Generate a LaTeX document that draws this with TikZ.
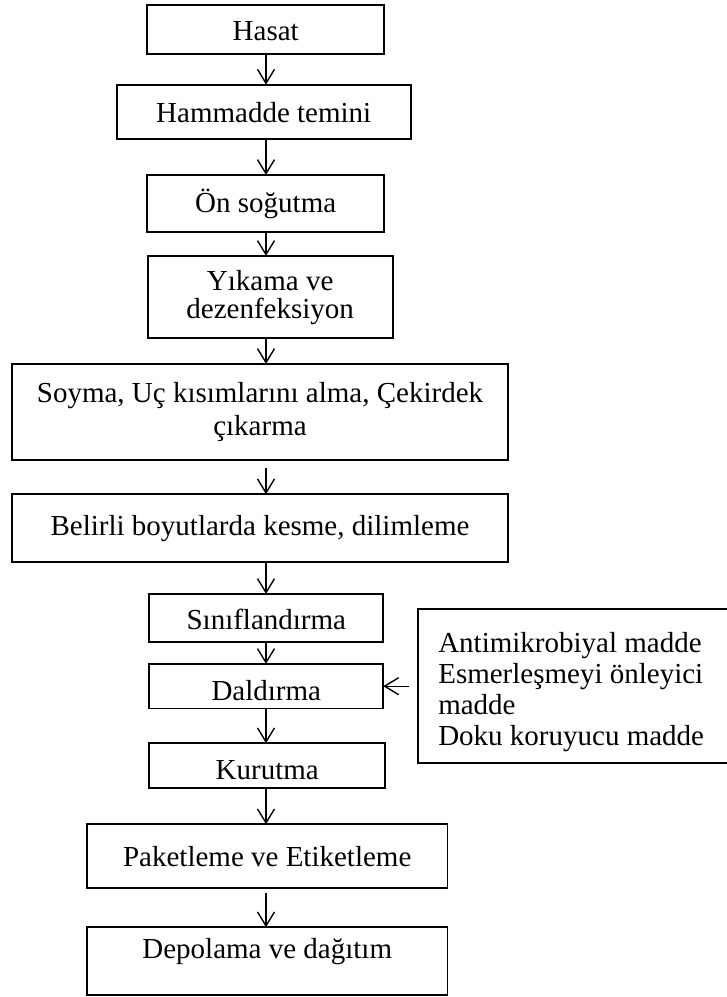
\documentclass[tikz,border=0pt]{standalone}
\usepackage{fontspec}
\setmainfont{Liberation Serif}
\usepackage{tikz}
\usetikzlibrary{positioning,arrows.meta}

\begin{document}
\begin{tikzpicture}[>={Straight Barb[length=14pt,width=17pt]}, line width=1.4pt,
  blk/.style={draw, line width=1.8pt, inner sep=0pt, outer sep=0pt, align=center, font=\fontsize{29}{31}\selectfont}]
  \useasboundingbox (0,0) rectangle (727pt,-997pt);
  \coordinate (ax) at (266pt,0);
  \node[blk, minimum width=236.7pt, minimum height=49.3pt, text height=23pt] (hasat) at (265.7pt,-29.3pt) {Hasat};
  \node[blk, minimum width=294pt, minimum height=54pt, text height=22pt, below=30.7pt of hasat, xshift=-2pt] (ham) {Hammadde temini};
  \node[blk, minimum width=236.7pt, minimum height=57.3pt, below=36.3pt of ham, xshift=2pt] (onsog) {Ön soğutma};
  \node[blk, minimum width=245pt, minimum height=82.3pt, below=23.7pt of onsog, xshift=4.5pt, font=\fontsize{29}{28}\selectfont] (yik) {Yıkama ve\\dezenfeksiyon};
  \node[blk, minimum width=496.6pt, minimum height=96pt, below=25.7pt of yik, xshift=-10.2pt, font=\fontsize{29}{33}\selectfont] (soy) {Soyma, Uç kısımlarını alma, Çekirdek\\çıkarma};
  \node[blk, minimum width=496.6pt, minimum height=68pt, below=34.3pt of soy] (kes) {Belirli boyutlarda kesme, dilimleme};
  \node[blk, minimum width=234pt, minimum height=48pt, text height=24pt, below=31.7pt of kes, xshift=6.3pt] (sinif) {Sınıflandırma};
  \node[blk, minimum width=234pt, minimum height=44.5pt, text height=29pt, below=22pt of sinif] (dal) {Daldırma};
  \node[blk, minimum width=235.7pt, minimum height=45pt, text height=28.5pt, below=34.8pt of dal, xshift=0.9pt] (kur) {Kurutma};
  \node[blk, minimum width=360.6pt, minimum height=64pt, below=36pt of kur] (pak) {Paketleme ve Etiketleme};
  \node[blk, minimum width=360.6pt, minimum height=67.7pt, text depth=25pt, below=39pt of pak] (dep) {Depolama ve dağıtım};
  \node[blk, inner xsep=20pt, minimum height=153.7pt, text height=35.7pt, right=35pt of dal] (katki)
    {\begin{tabular}[t]{@{}l@{}}Antimikrobiyal madde\\Esmerleşmeyi önleyici\\madde\\Doku koruyucu madde\end{tabular}\hspace{20pt}};
  \draw[->] (hasat.south -| ax) -- (ham.north -| ax);
  \draw[->] (ham.south -| ax) -- (onsog.north -| ax);
  \draw[->] (onsog.south -| ax) -- (yik.north -| ax);
  \draw[->] (yik.south -| ax) -- (soy.north -| ax);
  \draw[->, shorten <=8pt] (soy.south -| ax) -- (kes.north -| ax);
  \draw[->] (kes.south -| ax) -- (sinif.north -| ax);
  \draw[->] (sinif.south -| ax) -- (dal.north -| ax);
  \draw[->] (dal.south -| ax) -- (kur.north -| ax);
  \draw[->] (kur.south -| ax) -- (pak.north -| ax);
  \draw[->, shorten <=5pt] (pak.south -| ax) -- (dep.north -| ax);
  \draw[->, shorten <=9pt] (katki) -- (dal);
\end{tikzpicture}
\end{document}
